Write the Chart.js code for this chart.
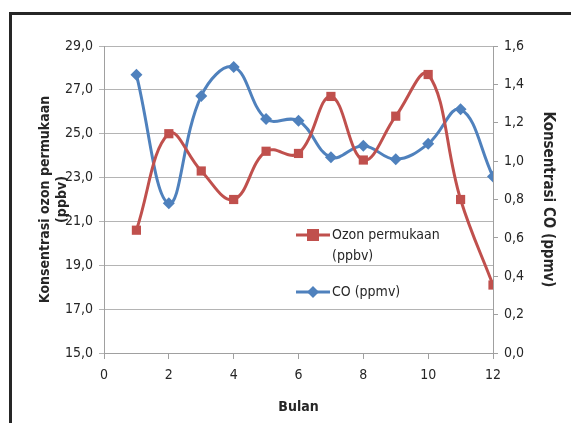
<!DOCTYPE html>
<html><head><meta charset="utf-8">
<script src="https://cdn.jsdelivr.net/npm/chart.js@4"></script>
<style>
html,body{margin:0;padding:0;background:#fff;width:571px;height:423px;overflow:hidden;}
#frame{position:absolute;left:9px;top:12px;width:700px;height:600px;border-left:3px solid #262626;border-top:3px solid #262626;}
#wrap{position:absolute;left:0;top:0;width:571px;height:423px;}
</style></head>
<body>
<div id="frame"></div>
<div id="wrap"><canvas id="c" width="571" height="423"></canvas></div>
<script>
const months = [1,2,3,4,5,6,7,8,9,10,11,12];
const ozone = [20.6,25.0,23.3,22.0,24.2,24.1,26.7,23.8,25.8,27.7,22.0,18.1];
const co = [1.45,0.78,1.34,1.49,1.22,1.21,1.02,1.08,1.01,1.09,1.27,0.92];
const ozoneLabel = "Ozon permukaan (ppbv)";
const coLabel = "CO (ppmv)";
const xTitle = "Bulan";
const yLeftTitle = ["Konsentrasi ozon permukaan", "(ppbv)"];
const yRightTitle = "Konsentrasi CO (ppmv)";
const legendLines = [["Ozon permukaan", "(ppbv)"], ["CO (ppmv)"]];

const RED = '#C0504D', BLUE = '#4F81BD';
const FONT = "'Liberation Sans Narrow', 'DejaVu Sans Condensed', 'Open Sans', sans-serif";
const fmt = v => Number(v).toFixed(1).replace('.', ',');

const legendPlugin = {
  id: 'inlegend',
  afterDraw(chart) {
    const ctx = chart.ctx, a = chart.chartArea;
    const x0 = a.left + 192, y0 = a.top + 189;
    const items = [
      {color: RED, style: 'rect', lines: legendLines[0], y: y0},
      {color: BLUE, style: 'rectRot', lines: legendLines[1], y: y0 + 57}
    ];
    ctx.save();
    items.forEach(it => {
      ctx.strokeStyle = it.color; ctx.lineWidth = 3;
      ctx.beginPath(); ctx.moveTo(x0, it.y); ctx.lineTo(x0 + 34, it.y); ctx.stroke();
      ctx.fillStyle = it.color;
      if (it.style === 'rect') { ctx.fillRect(x0 + 11, it.y - 6, 12, 12); }
      else { ctx.beginPath(); ctx.moveTo(x0+17, it.y-6); ctx.lineTo(x0+23, it.y); ctx.lineTo(x0+17, it.y+6); ctx.lineTo(x0+11, it.y); ctx.closePath(); ctx.fill(); }
      ctx.fillStyle = '#262626'; ctx.font = "14px " + FONT; ctx.textBaseline = 'middle';
      it.lines.forEach((t, i) => ctx.fillText(t, x0 + 36, it.y + i * 21));
    });
    ctx.restore();
  }
};

new Chart(document.getElementById('c'), {
  type: 'line',
  data: {
    datasets: [
      {label: ozoneLabel, data: months.map((m,i)=>({x:m,y:ozone[i]})), yAxisID: 'y',
       borderColor: RED, backgroundColor: RED, borderWidth: 3, tension: 0.4,
       pointStyle: 'rect', pointRadius: 6.5, pointHoverRadius: 6.5, pointBorderWidth: 0},
      {label: coLabel, data: months.map((m,i)=>({x:m,y:co[i]})), yAxisID: 'y1',
       borderColor: BLUE, backgroundColor: BLUE, borderWidth: 3, tension: 0.4,
       pointStyle: 'rectRot', pointRadius: 6, pointHoverRadius: 6, pointBorderWidth: 0}
    ]
  },
  options: {
    responsive: false, animation: false, devicePixelRatio: 1,
    layout: {padding: {left: 37, right: 14, top: 46, bottom: 7}},
    plugins: {legend: {display: false}, tooltip: {enabled: false}},
    scales: {
      x: {type: 'linear', min: 0, max: 12,
          ticks: {stepSize: 2, color: '#262626', font: {family: FONT, size: 14}, padding: 8},
          grid: {drawOnChartArea: false, color: '#A0A0A0', tickLength: 6},
          border: {color: '#A0A0A0'},
          title: {display: true, text: xTitle, color: '#262626', font: {family: FONT, size: 14, weight: 'bold'}, padding: {top: 2, bottom: 0}},
          afterFit: s => { s.height = 63; }},
      y: {position: 'left', min: 15, max: 29,
          ticks: {stepSize: 2, callback: fmt, color: '#262626', font: {family: FONT, size: 14}, padding: 6},
          grid: {color: '#B4B4B4', tickLength: 5},
          border: {color: '#A0A0A0'},
          title: {display: true, text: yLeftTitle, color: '#262626', font: {family: FONT, size: 14, weight: 'bold', lineHeight: 1.2}, padding: 0},
          afterFit: s => { s.width = 67; }},
      y1: {position: 'right', min: 0, max: 1.6,
          ticks: {stepSize: 0.2, callback: fmt, color: '#262626', font: {family: FONT, size: 14}, padding: 6},
          grid: {drawOnChartArea: false, color: '#A0A0A0', tickLength: 5},
          border: {color: '#A0A0A0'},
          title: {display: true, text: yRightTitle, color: '#262626', font: {family: FONT, size: 15, weight: 'bold'}, padding: 0},
          afterFit: s => { s.width = 64; }}
    }
  },
  plugins: [legendPlugin]
});
</script>
</body></html>
